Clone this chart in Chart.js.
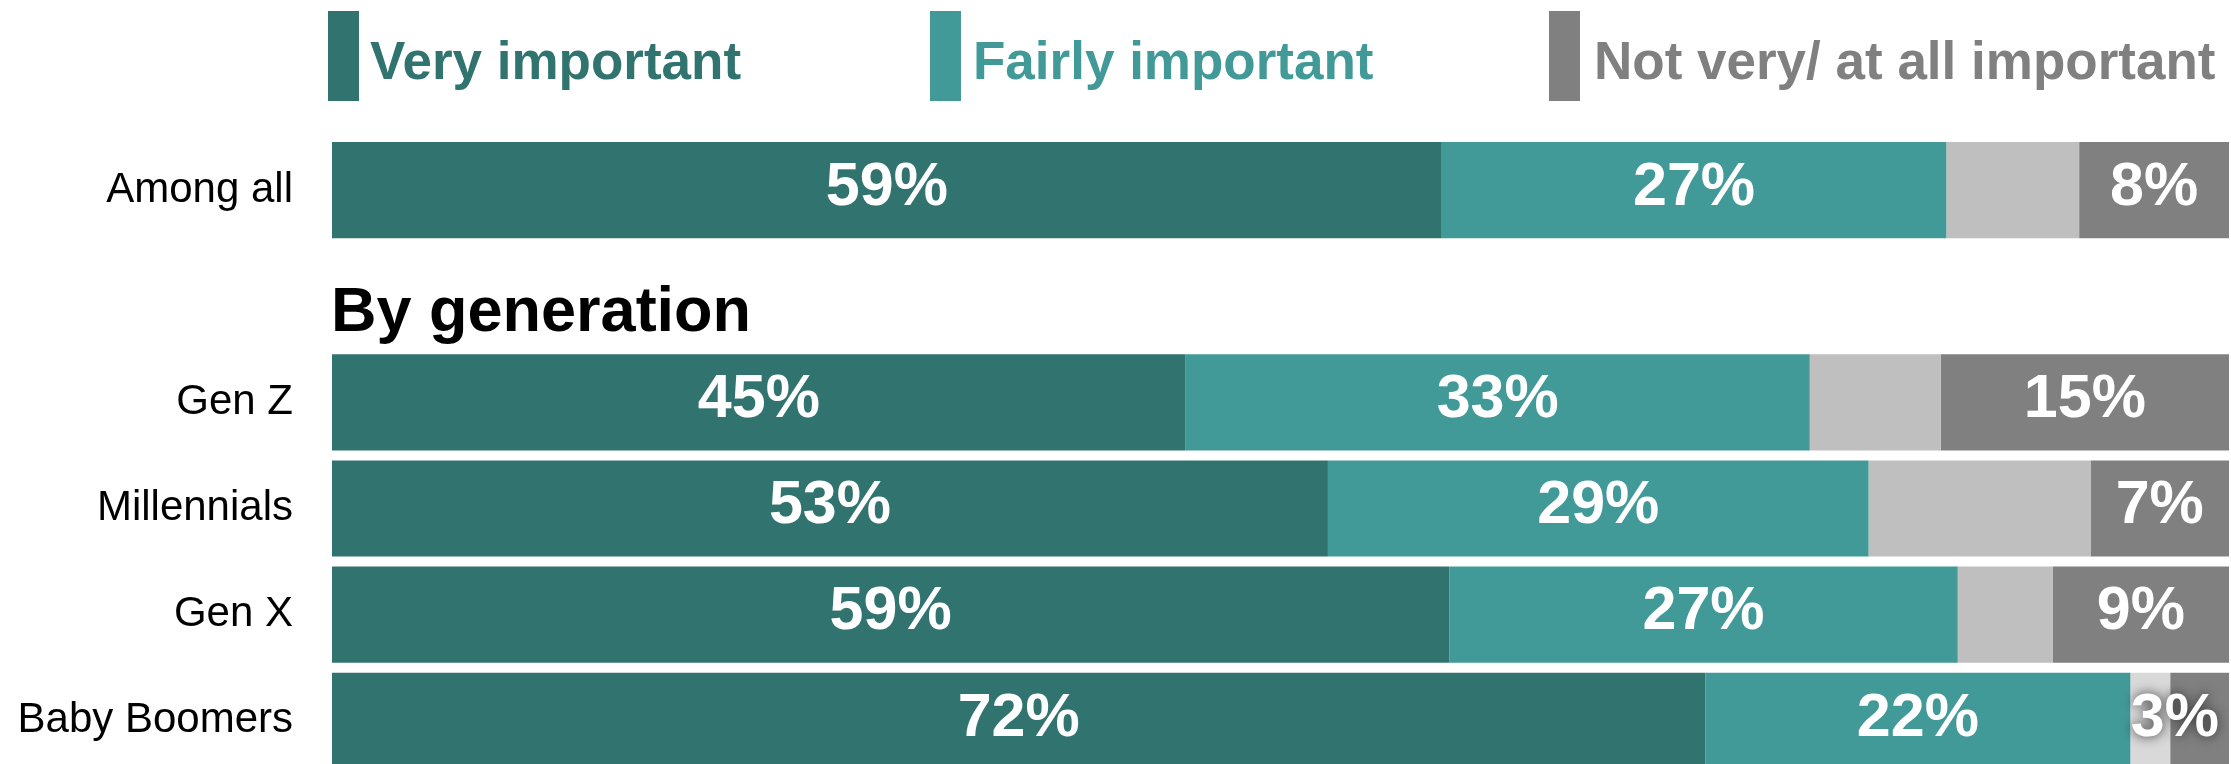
<!DOCTYPE html>
<html>
<head>
<meta charset="utf-8">
<script src="https://cdn.jsdelivr.net/npm/chart.js@4"></script>
<style>
  body { margin: 0; overflow: hidden; background: #fff; font-family: "Liberation Sans", Arial, sans-serif; }
  #wrap { position: relative; width: 2231px; height: 838px; }
  #chart { position: absolute; left: 0; top: 0; }
  .mark { position: absolute; top: 11px; width: 31px; height: 90px; }
  .leg { position: absolute; top: 34px; font-size: 53px; line-height: 53px; font-weight: bold; white-space: nowrap; }
</style>
</head>
<body>
<div id="wrap">
  <canvas id="chart" width="2231" height="838"></canvas>
  <div class="mark" style="left:328px;background:#31736f"></div>
  <div class="leg" style="left:370px;color:#31736f">Very important</div>
  <div class="mark" style="left:930px;background:#429a98"></div>
  <div class="leg" style="left:973px;color:#429a98">Fairly important</div>
  <div class="mark" style="left:1549px;background:#808080"></div>
  <div class="leg" style="left:1594px;color:#808080">Not very/ at all important</div>
</div>
<script>
const categories = ['Among all', 'Gen Z', 'Millennials', 'Gen X', 'Baby Boomers'];
// shares in % (labels show them rounded)
const veryImportant = [58.5, 45.0, 52.5, 58.9, 72.4];
const fairlyImportant = [26.6, 32.9, 28.5, 26.8, 22.4];
const unlabeled = [7.0, 6.9, 11.7, 5.0, 2.1];
const notImportant = [7.9, 15.2, 7.3, 9.3, 3.1];
const heading = 'By generation';

// put an empty slot after "Among all" for the heading
function withGap(arr, gap) {
    return [arr[0], gap].concat(arr.slice(1));
}

const greyColors = ['#bfbfbf', '#bfbfbf', '#bfbfbf', '#bfbfbf', '#d9d9d9'];

const labelPlugin = {
    id: 'segLabels',
    afterDatasetsDraw(chart) {
        const ctx = chart.ctx;
        const area = chart.chartArea;
        ctx.save();
        ctx.font = 'bold 61px "Liberation Sans", Arial, sans-serif';
        ctx.textAlign = 'center';
        ctx.textBaseline = 'middle';
        ctx.fillStyle = '#fff';
        chart.data.datasets.forEach((ds, di) => {
            if (!ds.showLabels) return;
            chart.getDatasetMeta(di).data.forEach((bar, i) => {
                const v = ds.data[i];
                if (v == null) return;
                const txt = Math.round(v) + '%';
                const w = ctx.measureText(txt).width;
                const left = Math.min(bar.x, bar.base);
                const right = Math.max(bar.x, bar.base);
                let x = (left + right) / 2;
                x = Math.min(x, area.right - w / 2 - 10);
                if (w > right - left) {
                    ctx.shadowColor = 'rgba(40,40,40,0.9)';
                    ctx.shadowBlur = 12;
                } else {
                    ctx.shadowColor = 'transparent';
                    ctx.shadowBlur = 0;
                }
                ctx.fillText(txt, x, bar.y - 2);
            });
        });
        ctx.restore();

        // heading in the empty row
        const y = chart.scales.y.getPixelForValue(1);
        ctx.save();
        ctx.font = 'bold 63px "Liberation Sans", Arial, sans-serif';
        ctx.fillStyle = '#000';
        ctx.textAlign = 'left';
        ctx.textBaseline = 'alphabetic';
        ctx.fillText(heading, area.left - 1, y + 35);
        ctx.restore();
    }
};

new Chart(document.getElementById('chart'), {
    type: 'bar',
    data: {
        labels: withGap(categories, ''),
        datasets: [
            {
                label: 'Very important',
                data: withGap(veryImportant, null),
                backgroundColor: '#31736f',
                showLabels: true
            },
            {
                label: 'Fairly important',
                data: withGap(fairlyImportant, null),
                backgroundColor: '#429a98',
                showLabels: true
            },
            {
                label: 'Other',
                data: withGap(unlabeled, null),
                backgroundColor: withGap(greyColors, '#bfbfbf'),
                showLabels: false
            },
            {
                label: 'Not very/ at all important',
                data: withGap(notImportant, null),
                backgroundColor: '#808080',
                showLabels: true
            }
        ]
    },
    options: {
        indexAxis: 'y',
        responsive: false,
        animation: false,
        datasets: {
            bar: {
                barPercentage: 0.906,
                categoryPercentage: 1,
                borderWidth: 0
            }
        },
        layout: {
            padding: { top: 137, bottom: 7, left: 0, right: 2 }
        },
        scales: {
            x: {
                stacked: true,
                min: 0,
                max: 100,
                display: false
            },
            y: {
                stacked: true,
                grid: { display: false, drawTicks: false },
                border: { display: false },
                ticks: {
                    color: '#000',
                    padding: 39,
                    font: { family: '"Liberation Sans", Arial, sans-serif', size: 42 }
                },
                afterFit(scale) {
                    scale.width = 332;
                }
            }
        },
        plugins: {
            legend: { display: false },
            tooltip: { enabled: false }
        }
    },
    plugins: [labelPlugin]
});
</script>
</body>
</html>
